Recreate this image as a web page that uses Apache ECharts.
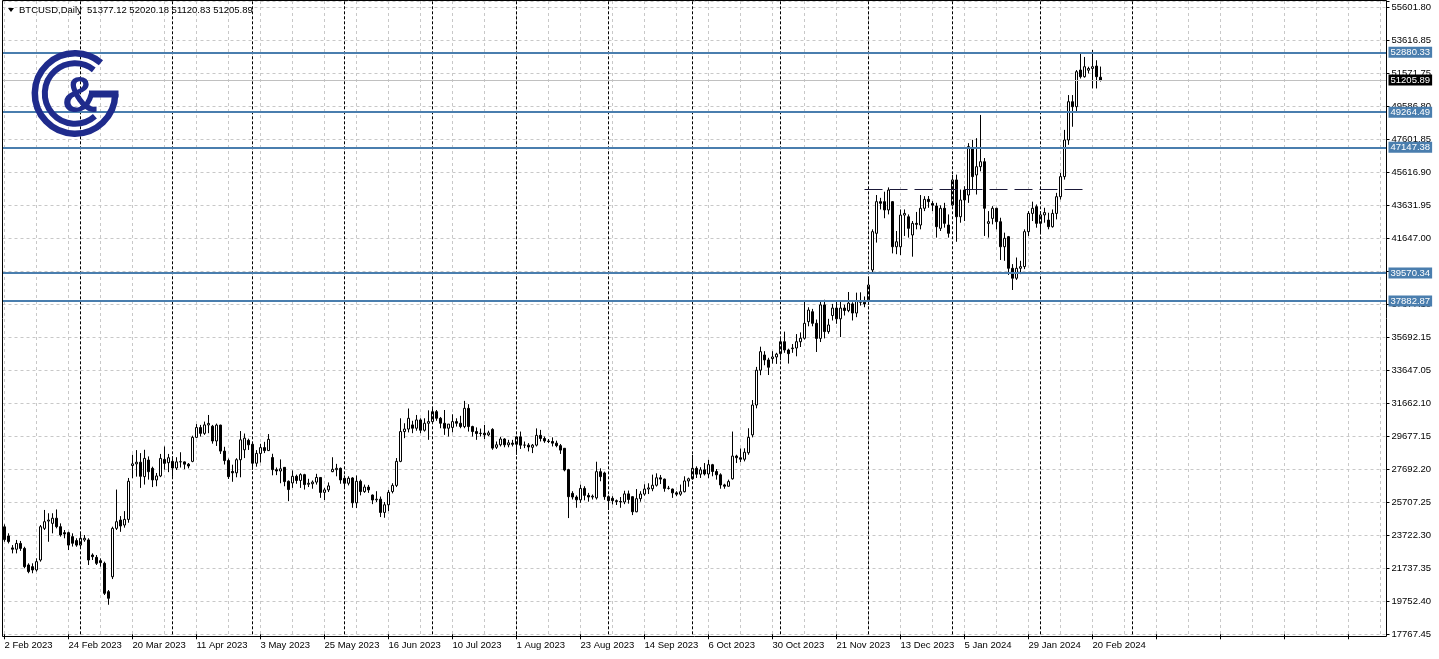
<!DOCTYPE html>
<html><head><meta charset="utf-8">
<script src="https://cdn.jsdelivr.net/npm/echarts@6/dist/echarts.min.js"></script>
<style>html,body{margin:0;padding:0;background:#fff;}#c{width:1439px;height:659px;}</style>
</head><body><div id="c"></div>
<script>
// ---------------- DATA ----------------
const symbolTitle = 'BTCUSD,Daily  51377.12 52020.18 51120.83 51205.89';
const firstDate = '2023-02-02';
const holidays = ['2024-01-01'];
const opens = [24250,23700,22980,22900,23250,22950,21950,21850,21650,22250,24160,24600,24460,24770,24260,23900,23900,23660,23420,23150,23460,23460,22550,22410,22210,22050,20340,21240,24160,24660,24360,24700,27950,28050,28150,27280,28280,27780,27080,27320,28320,28120,28200,27800,28170,28170,28030,28200,29650,30240,29890,30400,30320,29430,30390,28820,28250,27590,27510,28300,28900,29470,29230,28090,28680,29030,28850,28430,27700,27620,27840,27000,26900,27300,27050,27400,26820,26850,26950,27230,26330,26480,27580,27700,27780,27180,26880,27200,25700,27000,26380,26650,26170,25880,25920,25120,25580,26380,26750,28200,30000,30150,30400,30200,30700,30080,30500,30600,31200,30800,30500,30200,30250,30600,30500,30300,31400,30300,30000,29880,29900,29800,30130,29050,29200,29550,29200,29300,29230,29680,29180,29180,29050,29180,29770,29580,29430,29400,29300,29150,28990,27700,26270,26050,25880,26570,26150,26050,26000,27580,27500,26070,25970,25830,25780,25750,26240,26070,25160,25950,26230,26530,26550,26760,27210,27130,26570,26530,26300,26220,26370,27020,27150,27780,27430,27690,27440,28000,27590,27390,26780,26700,27150,28520,28420,28330,28720,29800,31600,33700,34620,34320,34400,34500,34700,35420,34920,35000,35040,35420,35630,36630,37230,36530,35620,37640,36030,37000,37450,36800,37450,37300,37700,37150,37900,37800,37940,39750,41960,43870,43870,43370,43870,41150,41150,43060,42960,41860,42560,42460,43470,44010,43760,43610,42260,43470,42460,43670,45180,42960,44570,44270,47090,45480,45980,46280,42560,42860,43470,42660,41150,41760,39850,39250,39850,39950,42060,43160,43570,42560,43070,42760,42360,43160,44170,45380,47590,49900,49600,51810,51410,51800,51910,52050,51377.12];
const highs = [24400,23860,23150,23460,23400,23050,22050,22050,22350,24360,25270,25070,25070,25300,24460,24060,23960,23860,23560,23860,23760,23560,22650,22550,22350,22150,20440,24260,26500,24900,25200,27200,28600,28880,28700,28900,28500,27880,27500,28650,29100,28650,28500,28450,28750,28200,28100,29750,30450,30400,30600,31000,30400,30480,30410,29080,28370,28000,28390,30030,29880,29570,29330,28880,29260,29380,29850,28660,27830,28320,27850,27050,27650,27400,27480,27450,27150,27050,27450,27250,26600,26930,28450,28050,27830,27350,27300,27250,27350,27100,26800,26780,26200,26400,26080,25750,26470,26880,28400,30800,30500,31390,30650,31000,30800,30800,31280,31380,31300,30880,31300,30450,31040,30800,30950,31850,31650,30350,30250,30180,30400,30050,30200,29400,29680,29600,29500,29500,29730,30000,29400,29300,29250,30190,30100,29700,29550,29650,29450,29250,29000,27750,26400,26150,26800,26700,26300,26200,28180,27780,27580,26150,26100,25900,26050,26430,26440,26100,26530,26400,26820,26880,27400,27480,27380,27160,26720,26560,26400,26800,27300,27220,28580,27900,27850,28100,28290,28050,27740,27480,26850,27100,30000,28600,28980,28990,30200,31900,33900,35120,34850,34450,34850,34750,35580,36030,35000,35280,35880,35980,37940,37500,37400,36760,37900,37950,36800,37700,37850,37850,37650,38420,37800,38380,38400,38150,39240,42200,44270,44100,44470,44730,43900,42100,43400,43400,43100,42700,43250,44270,44200,44210,43900,43800,43650,43800,43100,45480,45500,44600,44800,47400,47600,47700,49100,46500,43300,43600,43500,42900,42000,41800,40100,40500,40300,42200,43300,43870,43700,43300,43500,43200,43400,44400,45600,48200,50300,50300,51810,52820,52600,52010,53020,52400,52020.18];
const lows = [23350,23250,22650,22650,22800,21750,21450,21450,21550,22150,24060,23350,23860,24160,23660,23560,22850,23060,23050,22950,23350,21950,22250,21950,21850,20140,19550,21100,24060,23950,24200,24500,27180,27280,26600,26800,27100,26650,26700,27250,27700,27550,27270,27680,27830,27730,27780,28150,29600,29700,29800,29900,29270,29130,28650,28010,27140,26970,27240,27240,28400,28890,27690,27880,28130,28700,28830,27360,27370,26880,26700,25800,26600,26850,26600,26500,26650,26550,26800,26000,25870,26350,27550,27300,26850,26600,26750,25400,25380,26150,26300,26300,25620,25750,24840,24800,25200,26270,26650,28150,29600,29950,29900,30050,29900,30000,29500,30550,30650,30200,29800,29700,29950,30300,30200,30200,30000,29700,29500,29700,29550,29720,28900,28950,29100,29050,29050,29100,28600,28950,29000,28800,28700,29100,29400,29320,29300,29100,29050,28650,27600,24780,25900,25400,25700,25850,25770,25900,25900,27000,25880,25270,25600,25570,25400,25620,25650,24960,25130,25770,26130,26230,26400,26680,26830,26370,26500,26000,26100,26120,26330,26670,27100,27200,27200,27350,27180,27300,27100,26550,26550,26680,27100,28100,28150,28200,28600,29650,31400,33400,34000,33410,34100,34080,34300,34750,34100,34750,34540,35100,35550,36350,36350,34800,35400,35620,35900,36700,36500,35700,37000,37200,36700,36900,37600,37500,37650,39600,41400,43400,42870,43100,40750,40700,40650,41800,41700,40550,42200,42200,43300,43500,43300,41700,42100,42300,41700,43600,41450,42600,42700,43800,44580,44300,45700,41800,41700,42500,42200,40350,40300,39450,38540,39150,39500,39800,41800,42700,42300,41900,42600,42200,42300,42800,44000,45200,47300,48390,49300,51300,51350,51600,50700,50700,51120.83];
const closes = [23480,23360,22900,23250,22950,21850,21550,21650,22150,24260,24560,24660,24770,24260,23760,23820,23150,23260,23150,23560,23560,22250,22450,22050,22090,20240,19940,24160,24560,24300,24700,27000,28050,28150,27300,28380,27580,27080,27320,28380,28080,28420,27800,28170,28180,28030,27920,29650,30240,29890,30400,30490,29430,30390,28820,28250,27280,27510,28300,29500,29600,29200,28090,28680,29030,28850,29530,27700,27620,27750,26980,26500,27300,27050,27400,26800,26880,26950,27230,26330,26480,26720,27720,27780,27080,26880,27180,25700,27000,26380,26650,26480,25870,25920,25120,25580,26330,26750,28200,30000,30150,30800,30200,30700,30080,30500,30600,31200,30800,30500,30200,30450,30600,30500,30300,31400,30300,30000,29880,29900,29800,29920,29000,29200,29550,29200,29320,29230,29680,29180,29180,29070,29180,29770,29580,29430,29400,29300,29150,28880,27680,26070,26050,25880,26570,26150,26050,26100,27580,27280,26070,25830,25830,25780,25750,26240,25900,25160,25950,26230,26530,26600,26760,27210,27130,26570,26580,26300,26220,26370,27020,27150,27780,27430,27690,27440,28000,27590,27390,26780,26700,26980,28520,28420,28330,28750,29650,31600,33700,34820,34320,33880,34500,34670,35420,34920,34700,35040,35420,35630,36530,37330,36530,35620,37640,36030,36430,37450,36800,37450,37300,37750,37150,37900,37800,37700,38840,42060,43870,43770,43370,44570,41150,41450,43060,43160,42260,42560,42500,43470,44010,43870,43660,42360,43470,42560,41960,45180,42960,43970,43970,47190,45380,45980,46280,43470,42660,43470,42660,41150,41660,39850,39250,39850,39950,42060,43160,43470,42560,43070,43210,42360,43160,44170,45380,47590,49900,49600,51710,51410,52010,51900,52010,51410,51205.89];
const yTickLabels = ['17767.45','19752.40','21737.35','23722.30','25707.25','27692.20','29677.15','31662.10','33647.05','35692.15','37677.10','39662.05','41647.00','43631.95','45616.90','47601.85','49586.80','51571.75','53616.85','55601.80'];
const xTickLabels = ['2 Feb 2023','24 Feb 2023','20 Mar 2023','11 Apr 2023','3 May 2023','25 May 2023','16 Jun 2023','10 Jul 2023','1 Aug 2023','23 Aug 2023','14 Sep 2023','6 Oct 2023','30 Oct 2023','21 Nov 2023','13 Dec 2023','5 Jan 2024','29 Jan 2024','20 Feb 2024'];
const levelPrices = [52880.33, 49264.49, 47147.38, 39570.34, 37882.87];
const lastPrice = 51205.89;
const resistancePrice = 44610;
const resistanceFromDate = '2023-11-30';
const resistanceToDate = '2024-02-16';

// ---------------- LAYOUT ----------------
const FONT = '"Liberation Sans", Arial, sans-serif';
const nBars = opens.length;
const nSlots = 346;
const labelEvery = 16, gridEvery = 8;
const yMin = 17767.45;
const yStep = 1991.2816;
const plotTop = 1, plotBottomY = 634.3;
const pricePerPx = (19 * yStep) / 627.1;
const yMax = yMin + (plotBottomY - plotTop) * pricePerPx;

function iso(d){return d.toISOString().slice(0,10);}
const cats = [];
(function(){
  let d = new Date(firstDate + 'T00:00:00Z');
  while (cats.length < nBars) {
    const wd = d.getUTCDay(), k = iso(d);
    if (wd !== 0 && wd !== 6 && holidays.indexOf(k) < 0) cats.push(k);
    d = new Date(d.getTime() + 86400000);
  }
  while (cats.length < nSlots) { cats.push(iso(d)); d = new Date(d.getTime() + 86400000); }
})();
const catIndex = {}; cats.forEach((c,i)=>catIndex[c]=i);
// month separators: all within the data plus the first one in the future area
const separators = [];
for (let i = 1; i < cats.length; i++) {
  if (cats[i].slice(0,7) !== cats[i-1].slice(0,7)) {
    separators.push(i);
    if (i >= nBars) break;
  }
}

const candles = opens.map((o,i)=>[o, closes[i], lows[i], highs[i]]);

const boxLabel = (bg, txt) => ({show:true, position:'end', distance:2, formatter: txt, backgroundColor:bg, color:'#fff',
  fontFamily:FONT, fontSize:9.5, padding:[1,2,0,2], lineHeight:10});

const mlData = [];
separators.forEach(i => mlData.push({xAxis: i, lineStyle:{color:'#000', width:1, type:[3,2]}, label:{show:false}}));
mlData.push({yAxis: lastPrice, lineStyle:{color:'#c0c0c0', width:1, type:'solid'}, label: boxLabel('#000', lastPrice.toFixed(2))});
levelPrices.forEach(v => mlData.push({yAxis: v, lineStyle:{color:'#4a7eae', width:2, type:'solid'}, label: boxLabel('#4a7eae', v.toFixed(2))}));
mlData.push([{coord:[catIndex[resistanceFromDate], resistancePrice], lineStyle:{color:'#1a1838', width:1, type:[18,7]}, label:{show:false}},
             {coord:[catIndex[resistanceToDate], resistancePrice]}]);

const NAVY = '#1f2b8c';
const option = {
  animation:false,
  backgroundColor:'#fff',
  grid:{left:2.5, right:52.5, top:plotTop, bottom:659 - plotBottomY},
  xAxis:{type:'category', data:cats, boundaryGap:true,
    axisLine:{show:false},
    axisTick:{show:true, alignWithLabel:true, interval:labelEvery-1, length:5, lineStyle:{color:'#000'}},
    axisLabel:{interval:labelEvery-1, align:'left', margin:6, color:'#000', fontFamily:FONT, fontSize:9.5,
      formatter:(v)=>{const i=catIndex[v]; if(i%labelEvery===0 && i<nBars){return xTickLabels[i/labelEvery]||'';} return '';}},
    splitLine:{show:true, interval:gridEvery-1, alignWithLabel:true, lineStyle:{color:'#c8c8c8', width:1, type:[3,3]}}
  },
  yAxis:{type:'value', position:'right', min:yMin, max:yMax, interval:yStep, scale:true,
    axisLine:{show:false},
    axisTick:{show:true, length:3, lineStyle:{color:'#000'}},
    axisLabel:{margin:5, color:'#000', fontFamily:FONT, fontSize:9.5,
      formatter:(v)=>{const k=Math.round((v-yMin)/yStep); if(Math.abs(v-(yMin+k*yStep))>yStep*0.05) return ''; return yTickLabels[k]||'';}},
    splitLine:{show:true, lineStyle:{color:'#c8c8c8', width:1, type:[3,3]}}
  },
  series:[{
    type:'candlestick', data:candles, barWidth:2, clip:false,
    itemStyle:{color:'#fff', color0:'#000', borderColor:'#000', borderColor0:'#000', borderWidth:1},
    emphasis:{disabled:true},
    markLine:{silent:true, symbol:['none','none'], animation:false, precision:2, data:mlData}
  }],
  graphic:[
    {type:'rect', silent:true, z:100, shape:{x:2.5, y:0.5, width:1384, height:636}, style:{fill:'none', stroke:'#000', lineWidth:1}},
    {type:'polygon', silent:true, z:100, shape:{points:[[8,8],[14,8],[11,12]]}, style:{fill:'#000'}},
    {type:'text', silent:true, z:100, x:19, y:5, style:{text:symbolTitle, fill:'#000', font:'9.5px ' + FONT}},
    {type:'arc', silent:true, z:100, shape:{cx:75, cy:93.5, r:40.2, startAngle:0.02, endAngle:-0.87, clockwise:true}, style:{fill:'none', stroke:NAVY, lineWidth:6.5}},
    {type:'arc', silent:true, z:100, shape:{cx:75, cy:93.5, r:30.2, startAngle:0.85, endAngle:-0.9, clockwise:true}, style:{fill:'none', stroke:NAVY, lineWidth:6}},
    {type:'rect', silent:true, z:100, shape:{x:89, y:90.5, width:29.5, height:7}, style:{fill:NAVY}},
    {type:'text', silent:true, z:100, x:80, y:98, style:{text:'&', fill:NAVY, font:'bold 50px "Liberation Sans", Arial, sans-serif', align:'center', verticalAlign:'middle'}}
  ]
};
const chart = echarts.init(document.getElementById('c'), null, {renderer:'canvas'});
chart.setOption(option);
</script>
</body></html>
